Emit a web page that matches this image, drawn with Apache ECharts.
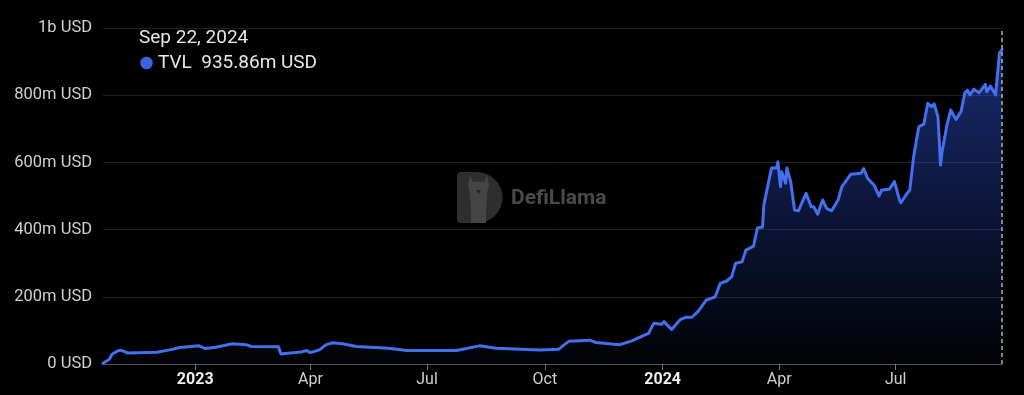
<!DOCTYPE html>
<html>
<head>
<meta charset="utf-8">
<script src="https://cdn.jsdelivr.net/npm/echarts@6/dist/echarts.min.js"></script>
<style>
html,body{margin:0;padding:0;background:#000;}
#c{width:1024px;height:395px;}
</style>
</head>
<body>
<div id="c"></div>
<script>
// ---- data (TVL in millions of USD) ----
var dates = ['2022-10-21','2022-10-26','2022-10-28','2022-11-02','2022-11-05','2022-11-09','2022-12-02','2022-12-12','2022-12-20',
'2023-01-04','2023-01-09','2023-01-17','2023-01-30','2023-02-10','2023-02-14','2023-03-07','2023-03-09','2023-03-12','2023-03-25','2023-03-29',
'2023-04-01','2023-04-08','2023-04-13','2023-04-18','2023-04-26','2023-05-07','2023-06-01','2023-06-15','2023-07-24','2023-08-11','2023-08-24',
'2023-09-27','2023-10-12','2023-10-16','2023-10-20','2023-11-05','2023-11-10','2023-11-20','2023-11-28','2023-12-08','2023-12-16','2023-12-21',
'2023-12-25','2023-12-31','2024-01-02','2024-01-08','2024-01-15','2024-01-19','2024-01-24','2024-01-29','2024-02-04','2024-02-11','2024-02-15',
'2024-02-20','2024-02-24','2024-02-27','2024-03-03','2024-03-06','2024-03-12','2024-03-15','2024-03-19','2024-03-20','2024-03-26','2024-03-30',
'2024-03-31','2024-04-02','2024-04-03','2024-04-06','2024-04-07','2024-04-10','2024-04-13','2024-04-16','2024-04-22','2024-04-26','2024-04-28',
'2024-05-01','2024-05-05','2024-05-08','2024-05-12','2024-05-17','2024-05-20','2024-05-27','2024-06-04','2024-06-06','2024-06-09','2024-06-14',
'2024-06-18','2024-06-20','2024-06-26','2024-06-30','2024-07-01','2024-07-04','2024-07-05','2024-07-09','2024-07-12','2024-07-15','2024-07-19',
'2024-07-23','2024-07-26','2024-07-29','2024-07-31','2024-08-03','2024-08-05','2024-08-06','2024-08-10','2024-08-13','2024-08-17','2024-08-21',
'2024-08-24','2024-08-26','2024-08-28','2024-08-31','2024-09-04','2024-09-09','2024-09-10','2024-09-13','2024-09-17','2024-09-20','2024-09-22'];
var tvl = [2,14,29,40,40,33,35,42,49,
54,46,50,60,57,52,51,30,31,36,40,
34,42,57,63,60,52,47,40,40,54,47,
42,44,57,68,71,64,60,57,69,83,91,
121,118,126,103,133,139,139,158,190,200,240,
247,260,300,304,339,351,405,408,473,583,583,
602,528,572,538,583,543,458,456,508,468,468,
446,488,463,456,488,528,565,568,582,553,533,
500,518,520,543,548,488,480,503,518,617,706,
714,776,766,774,736,592,627,711,756,728,751,
807,815,801,818,807,832,810,827,801,925,935.86];

var xTickDates = ['2023-01-01','2023-04-01','2023-07-01','2023-10-01','2024-01-01','2024-04-01','2024-07-01'];
var xTickLabels = ['2023','Apr','Jul','Oct','2024','Apr','Jul'];
var xTickBold = [true,false,false,false,true,false,false];
var yTicks = [0,200,400,600,800,1000];
var yTickLabels = ['0 USD','200m USD','400m USD','600m USD','800m USD','1b USD'];
var seriesName = 'TVL';
var tooltipDate = 'Sep 22, 2024';

function ts(s){ var p = s.split('-'); return Date.UTC(+p[0], +p[1]-1, +p[2]); }
var seriesData = dates.map(function(d,i){ return [ts(d), tvl[i]]; });
var xTickTs = xTickDates.map(ts);
var lastVal = tvl[tvl.length-1];

var chart = echarts.init(document.getElementById('c'), null, {renderer:'canvas'});
var FONT = 'Roboto, "Noto Sans", sans-serif';

chart.setOption({
  backgroundColor: '#000',
  animation: false,
  grid: {left: 103, right: 22, top: 28, bottom: 31},
  xAxis: {
    type: 'value',
    min: ts(dates[0]),
    max: ts(dates[dates.length-1]),
    axisLine: {show: true, onZero: false, lineStyle: {color: '#555', width: 1}},
    axisTick: {show: true, length: 6, lineStyle: {color: '#777'}, customValues: xTickTs},
    splitLine: {show: false},
    axisLabel: {
      customValues: xTickTs,
      color: '#d0d0d0',
      fontSize: 16,
      fontFamily: FONT,
      margin: 8,
      formatter: function(v){
        for (var i = 0; i < xTickTs.length; i++) {
          if (Math.abs(xTickTs[i] - v) < 43200000) {
            return xTickBold[i] ? '{b|' + xTickLabels[i] + '}' : xTickLabels[i];
          }
        }
        return '';
      },
      rich: {b: {fontWeight: 'bold', color: '#f0f0f0', fontSize: 16, fontFamily: FONT}}
    }
  },
  yAxis: {
    type: 'value',
    min: 0, max: 1000, interval: 200,
    axisLine: {show: false},
    axisTick: {show: false},
    splitLine: {show: true, lineStyle: {color: '#222', width: 1}},
    axisLabel: {
      color: '#d0d0d0',
      fontSize: 16.5,
      fontFamily: FONT,
      margin: 11,
      formatter: function(v){
        var i = yTicks.indexOf(v);
        return i >= 0 ? yTickLabels[i] : '';
      }
    }
  },
  series: [{
    name: seriesName,
    type: 'line',
    data: seriesData,
    symbol: 'none',
    showSymbol: false,
    smooth: false,
    lineStyle: {color: '#4270ee', width: 3, join: 'round', cap: 'round'},
    itemStyle: {color: '#4270ee'},
    areaStyle: {
      color: new echarts.graphic.LinearGradient(0, 0, 0, 1, [
        {offset: 0, color: 'rgba(45,80,210,0.75)'},
        {offset: 1, color: 'rgba(45,80,210,0.04)'}
      ])
    },
    markLine: {
      silent: true,
      symbol: ['none','none'],
      label: {show: false},
      lineStyle: {color: '#b0b0b0', type: [4,3], width: 1.5},
      data: [{xAxis: ts(dates[dates.length-1])}]
    },
    z: 3
  }],
  graphic: [
    {type: 'rect', z: 1, silent: true,
     shape: {x: 457, y: 172, width: 21, height: 51, r: [4,0,0,4]},
     style: {fill: '#2e2e2e'}},
    {type: 'sector', z: 1, silent: true,
     shape: {cx: 477, cy: 197.5, r: 25.5, r0: 0, startAngle: -Math.PI/2, endAngle: Math.PI/2, clockwise: true},
     style: {fill: '#2e2e2e'}},
    {type: 'polygon', z: 1, silent: true,
     shape: {points: [[470,175],[473,182],[484,182],[487,175],[489,185],[487,194],[486,214],[486,223],[471,223],[471,214],[470,194],[468,185]]},
     style: {fill: '#454545'}},
    {type: 'polygon', z: 1, silent: true,
     shape: {points: [[476,190],[481,190],[478.5,194]]},
     style: {fill: '#222'}},
    {type: 'text', z: 1, silent: true, x: 511, y: 199,
     style: {text: 'DefiLlama', fill: '#4a4a4a', fontSize: 21, fontWeight: 'bold', fontFamily: FONT, verticalAlign: 'middle', align: 'left'}},
    {type: 'text', z: 10, x: 139, y: 38,
     style: {text: tooltipDate, fill: '#e8e8e8', fontSize: 19, fontFamily: FONT, verticalAlign: 'middle', align: 'left'}},
    {type: 'circle', z: 10, shape: {cx: 146.5, cy: 63, r: 6.3}, style: {fill: '#3a62e2'}},
    {type: 'text', z: 10, x: 158, y: 63.5,
     style: {text: seriesName + '  ' + lastVal.toFixed(2) + 'm USD', fill: '#e8e8e8', fontSize: 19, fontFamily: FONT, verticalAlign: 'middle', align: 'left'}}
  ]
});
</script>
</body>
</html>
